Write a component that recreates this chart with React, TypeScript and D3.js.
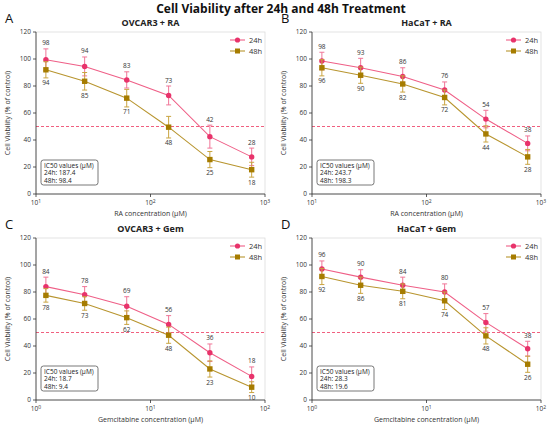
import * as d3 from "d3";

const raConc = [12.2, 26.6, 62, 144, 330, 765];
const gemConc = [1.22, 2.66, 6.2, 14.4, 33, 76.5];
const yTicks = [0, 20, 40, 60, 80, 100, 120];

const panelLetters = ["A", "B", "C", "D"];
const panelTitles = ["OVCAR3 + RA", "HaCaT + RA", "OVCAR3 + Gem", "HaCaT + Gem"];
const xLabels = [
  "RA concentration (µM)",
  "RA concentration (µM)",
  "Gemcitabine concentration (µM)",
  "Gemcitabine concentration (µM)",
];

const v24 = [
  [99.5, 94.5, 84.5, 73, 42.5, 27.5],
  [98.5, 93.5, 87, 77, 55.5, 37.5],
  [84, 78, 69.5, 56, 35, 17.5],
  [97, 91, 85, 80, 57.5, 38],
];
const e24 = [
  [8, 7, 6, 7, 8.5, 6.5],
  [6.5, 7, 6.5, 6, 6.5, 5.5],
  [7, 6, 7, 6.5, 6.5, 7],
  [6, 5.5, 6, 6, 6.5, 5.5],
];
const l24 = [
  [98, 94, 83, 73, 42, 28],
  [98, 93, 86, 76, 54, 38],
  [84, 78, 69, 56, 36, 18],
  [96, 90, 84, 80, 57, 38],
];
const v48 = [
  [92, 83.5, 71, 49.5, 25.5, 18],
  [93.5, 88, 81.5, 71.5, 44.5, 27.5],
  [77.5, 71.5, 61, 48, 23, 9.5],
  [91.5, 85, 80.5, 73.5, 47.5, 26.5],
];
const e48 = [
  [6, 6.5, 6.5, 8, 6, 5.5],
  [6, 6, 6, 5.5, 6, 5.5],
  [5, 5, 5, 6, 6, 4],
  [6, 6, 5.5, 6.5, 6, 6],
];
const l48 = [
  [94, 85, 71, 48, 25, 18],
  [96, 90, 82, 72, 44, 28],
  [78, 73, 62, 48, 23, 10],
  [92, 86, 81, 74, 48, 26],
];
const ic24 = ["187.4", "243.7", "18.7", "28.3"];
const ic48 = ["98.4", "198.3", "9.4", "19.6"];

const pink = "#e8336b";
const pinkLine = "#ef5f87";
const pinkErr = "#f07597";
const olive = "#a67c00";
const oliveLine = "#b8952f";
const oliveErr = "#c9a440";
const font = "'Open Sans', sans-serif";

function Panel({ i, left, top }: { i: number; left: number; top: number }) {
  const w = 229;
  const h = 162;
  const isRA = i < 2;
  const conc = isRA ? raConc : gemConc;
  const x = d3
    .scaleLog()
    .domain(isRA ? [10, 1000] : [1, 100])
    .range([0, w]);
  const y = d3.scaleLinear().domain([0, 120]).range([h, 0]);
  const decades = isRA ? [1, 2, 3] : [0, 1, 2];

  const line = d3
    .line<number>()
    .x((_, k) => x(conc[k]))
    .y((d) => y(d));

  const series = [
    { v: v24[i], e: e24[i], l: l24[i], c: pink, lc: pinkLine, ec: pinkErr, up: true },
    { v: v48[i], e: e48[i], l: l48[i], c: olive, lc: oliveLine, ec: oliveErr, up: false },
  ];

  return (
    <g transform={`translate(${left},${top})`}>
      <text x={-31} y={-9} fontSize={13} fontFamily={font} fill="#111">
        {panelLetters[i]}
      </text>
      <text x={w / 2} y={-6} fontSize={9} fontWeight="bold" textAnchor="middle" fontFamily={font} fill="#222">
        {panelTitles[i]}
      </text>
      <rect x={0} y={0} width={w} height={h} fill="none" stroke="#dcdcdc" strokeWidth={0.8} />
      <line x1={0} x2={w} y1={y(50)} y2={y(50)} stroke="#f0607f" strokeWidth={1} strokeDasharray="3,2" />
      {series.map((s, si) => (
        <g key={si}>
          <path d={line(s.v) ?? ""} fill="none" stroke={s.lc} strokeWidth={1.1} />
          {s.v.map((v, k) => {
            const cx = x(conc[k]);
            return (
              <g key={k} stroke={s.ec} strokeWidth={1}>
                <line x1={cx} x2={cx} y1={y(v - s.e[k])} y2={y(v + s.e[k])} />
                <line x1={cx - 2.5} x2={cx + 2.5} y1={y(v - s.e[k])} y2={y(v - s.e[k])} />
                <line x1={cx - 2.5} x2={cx + 2.5} y1={y(v + s.e[k])} y2={y(v + s.e[k])} />
              </g>
            );
          })}
          {s.v.map((v, k) => {
            const cx = x(conc[k]);
            return si === 0 ? (
              <circle key={k} cx={cx} cy={y(v)} r={2.7} fill={s.c} />
            ) : (
              <rect key={k} x={cx - 2.7} y={y(v) - 2.7} width={5.4} height={5.4} fill={s.c} />
            );
          })}
          {s.v.map((v, k) => (
            <text
              key={k}
              x={x(conc[k])}
              y={s.up ? y(v + s.e[k]) - 3.5 : y(v - s.e[k]) + 7.5}
              fontSize={6.5}
              textAnchor="middle"
              fontFamily={font}
              fill="#333"
            >
              {s.l[k]}
            </text>
          ))}
        </g>
      ))}
      {/* axes */}
      <line x1={0} x2={0} y1={0} y2={h} stroke="#333" strokeWidth={0.8} />
      <line x1={0} x2={w} y1={h} y2={h} stroke="#333" strokeWidth={0.8} />
      {yTicks.map((t) => (
        <g key={t}>
          <line x1={-3} x2={0} y1={y(t)} y2={y(t)} stroke="#333" strokeWidth={0.8} />
          <text x={-5} y={y(t) + 2.3} fontSize={6.5} textAnchor="end" fontFamily={font} fill="#333">
            {t}
          </text>
        </g>
      ))}
      {decades.map((p) => (
        <g key={p}>
          <line x1={x(10 ** p)} x2={x(10 ** p)} y1={h} y2={h + 3} stroke="#333" strokeWidth={0.8} />
          <text x={x(10 ** p)} y={h + 11} fontSize={6.5} textAnchor="middle" fontFamily={font} fill="#333">
            10
            <tspan dy={-2.5} fontSize={5}>
              {p}
            </tspan>
          </text>
        </g>
      ))}
      <text x={w / 2} y={h + 22} fontSize={7} textAnchor="middle" fontFamily={font} fill="#333">
        {xLabels[i]}
      </text>
      <text
        transform={`translate(${-26},${h / 2}) rotate(-90)`}
        fontSize={7}
        textAnchor="middle"
        fontFamily={font}
        fill="#333"
      >
        Cell Viability (% of control)
      </text>
      {/* legend */}
      <g transform={`translate(${w - 35},8)`} fontFamily={font} fontSize={7.5} fill="#333">
        <line x1={0} x2={15} y1={0} y2={0} stroke={pinkLine} strokeWidth={1.1} />
        <circle cx={7.5} cy={0} r={2.6} fill={pink} />
        <text x={19} y={2.6}>24h</text>
        <line x1={0} x2={15} y1={11} y2={11} stroke={oliveLine} strokeWidth={1.1} />
        <rect x={5} y={8.5} width={5} height={5} fill={olive} />
        <text x={19} y={13.6}>48h</text>
      </g>
      {/* IC50 box */}
      <g transform={`translate(5,${h - 34})`} fontFamily={font} fontSize={6.5} fill="#222">
        <rect x={0} y={0} width={57} height={25} rx={2.5} fill="#fff" stroke="#555" strokeWidth={0.8} />
        <text x={3} y={7.5}>IC50 values (µM)</text>
        <text x={3} y={15}>24h: {ic24[i]}</text>
        <text x={3} y={22.5}>48h: {ic48[i]}</text>
      </g>
    </g>
  );
}

export default function App() {
  return (
    <svg
      width={550}
      height={431}
      style={{ position: "absolute", left: 0, top: 0, background: "#fff" }}
    >
      <text
        x={281}
        y={13}
        textAnchor="middle"
        fontSize={12}
        fontWeight="bold"
        fontFamily={font}
        fill="#111"
      >
        Cell Viability after 24h and 48h Treatment
      </text>
      <Panel i={0} left={36} top={32} />
      <Panel i={1} left={312} top={32} />
      <Panel i={2} left={36} top={238} />
      <Panel i={3} left={312} top={238} />
    </svg>
  );
}
